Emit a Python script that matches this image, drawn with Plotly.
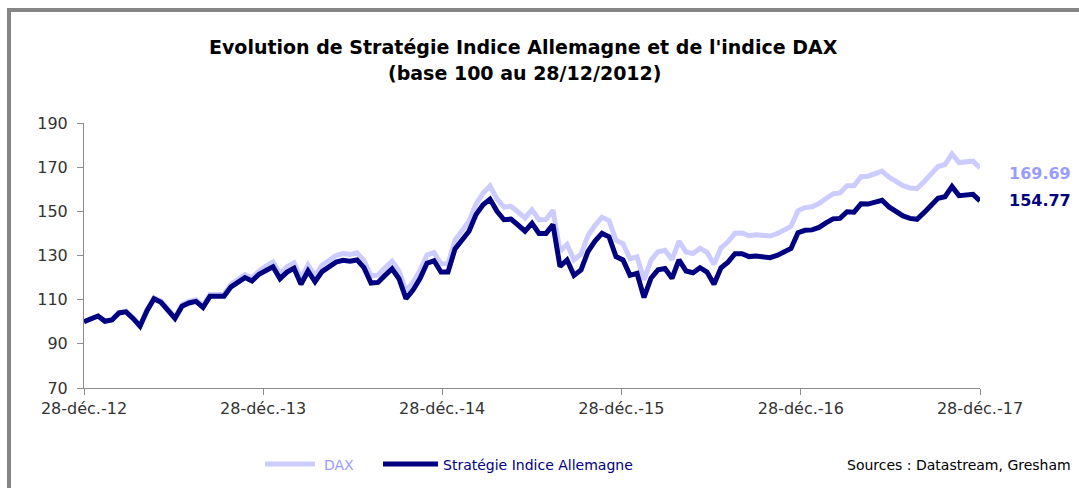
import pandas as pd
import plotly.graph_objects as go

start_date = "2012-12-28"
end_date = "2017-12-28"

strategie = [
    100.0, 101.5, 102.6, 100.2, 100.8, 104.0, 104.5, 101.5, 98.0, 105.0,
    110.4, 108.8, 105.5, 101.5, 107.0, 108.5, 109.2, 106.5, 111.5, 111.3,
    111.5, 115.8, 117.6, 120.0, 118.5, 121.5, 123.2, 124.9, 119.5, 122.5,
    124.2, 117.0, 123.0, 118.1, 122.7, 124.7, 127.0, 127.8, 127.4, 128.0,
    124.5, 117.5, 117.8, 121.0, 124.0, 119.5, 110.5, 114.3, 119.6, 126.5,
    127.6, 122.5, 122.5, 133.0, 136.8, 141.0, 148.5, 153.0, 155.5, 150.0,
    146.2, 146.5, 143.8, 141.0, 144.6, 140.0, 140.0, 144.0, 125.0, 128.0,
    121.0, 123.5, 131.8, 136.5, 140.0, 138.5, 129.5, 128.0, 121.0, 121.9,
    111.0, 119.7, 123.5, 124.1, 119.7, 128.0, 123.0, 122.2, 124.5, 122.5,
    117.0, 124.4, 127.0, 130.8, 130.8, 129.5, 129.8, 129.6, 129.0, 130.0,
    131.6, 133.2, 140.3, 141.4, 141.6, 142.7, 144.8, 146.6, 146.8, 149.8,
    149.6, 153.4, 153.3, 154.0, 155.0, 152.0, 150.2, 147.9, 146.8, 146.4,
    149.4, 152.6, 155.9, 156.6, 161.2, 157.1, 157.6, 157.7, 154.77,
]

dax = [
    100.0, 101.6, 102.7, 100.3, 101.0, 104.2, 104.8, 101.8, 98.4, 105.4,
    110.9, 109.3, 106.1, 102.1, 107.7, 109.2, 110.0, 107.3, 112.4, 112.2,
    112.5, 116.9, 118.8, 121.3, 119.9, 123.0, 125.2, 127.1, 121.8, 124.9,
    126.7, 119.6, 125.7, 120.9, 125.6, 127.7, 130.0, 130.9, 130.5, 131.2,
    127.7, 120.8, 121.1, 124.4, 127.4, 123.0, 114.0, 117.9, 123.2, 130.2,
    131.3, 126.3, 126.3, 137.0, 141.0, 145.5, 153.3, 158.2, 161.5, 155.6,
    151.9, 152.3, 149.7, 147.0, 150.7, 146.2, 146.3, 150.5, 132.0, 135.0,
    128.1, 130.6, 139.0, 143.7, 147.3, 145.8, 136.9, 135.4, 128.5, 129.4,
    119.0, 127.8, 131.7, 132.4, 128.1, 136.5, 131.6, 130.9, 133.3, 131.4,
    126.0, 133.5, 136.2, 140.1, 140.2, 139.0, 139.4, 139.3, 138.8, 139.9,
    141.6, 143.2, 150.3, 151.7, 152.1, 153.5, 155.8, 157.9, 158.3, 161.6,
    161.6, 165.7, 165.9, 166.9, 168.2, 165.5, 163.8, 161.6, 160.6, 160.3,
    163.4, 166.8, 170.3, 171.2, 176.0, 172.1, 172.6, 172.7, 169.69,
]

tick_dates = ["2012-12-28", "2013-12-28", "2014-12-28", "2015-12-28", "2016-12-28", "2017-12-28"]
tick_labels = ["28-déc.-12", "28-déc.-13", "28-déc.-14", "28-déc.-15", "28-déc.-16", "28-déc.-17"]
series_names = ["DAX", "Stratégie Indice Allemagne"]

dates = pd.date_range(start_date, end_date, periods=len(strategie))

DAX_COLOR = "#ccccff"
DAX_TEXT = "#9c9cff"
STRAT_COLOR = "#000080"
FONT = "DejaVu Sans"

# plot area in pixels
L, R, T, B = 84, 980, 123, 388
W = R - L
H = B - T


def px(x):
    return (x - L) / W


def py(y):
    return (B - y) / H


fig = go.Figure()
fig.add_trace(go.Scatter(x=dates, y=dax, mode="lines", name=series_names[0],
                         line=dict(color=DAX_COLOR, width=5), showlegend=False))
fig.add_trace(go.Scatter(x=dates, y=strategie, mode="lines", name=series_names[1],
                         line=dict(color=STRAT_COLOR, width=5), showlegend=False))

fig.update_layout(
    width=1079, height=488, autosize=False,
    margin=dict(l=L, r=1079 - R, t=T, b=488 - B, autoexpand=False),
    paper_bgcolor="white", plot_bgcolor="white",
    font=dict(family=FONT, size=16, color="#333333"),
    showlegend=False,
    xaxis=dict(type="date", range=[start_date, end_date], tickvals=tick_dates, ticktext=tick_labels,
               showgrid=False, zeroline=False, showline=True, linecolor="#8c8c8c", linewidth=1,
               ticks="outside", ticklen=6, tickcolor="#8c8c8c", tickfont=dict(size=16, color="#333333")),
    yaxis=dict(range=[70, 190], tickvals=[70, 90, 110, 130, 150, 170, 190],
               showgrid=False, zeroline=False, showline=True, linecolor="#8c8c8c", linewidth=1,
               ticks="outside", ticklen=6, tickcolor="#8c8c8c", ticklabelstandoff=6,
               tickfont=dict(size=16, color="#333333")),
)

fig.add_annotation(xref="paper", yref="paper", x=px(523), y=py(47),
                   text="<b>Evolution de Stratégie Indice Allemagne et de l'indice DAX</b>",
                   showarrow=False, xanchor="center", yanchor="middle",
                   font=dict(size=19, color="black", family=FONT))
fig.add_annotation(xref="paper", yref="paper", x=px(524), y=py(73),
                   text="<b>(base 100 au 28/12/2012)</b>",
                   showarrow=False, xanchor="center", yanchor="middle",
                   font=dict(size=19, color="black", family=FONT))
fig.add_annotation(xref="paper", yref="y", x=px(1007), y=dax[-1], yshift=-6,
                   text="<b>%.2f</b>" % dax[-1], showarrow=False, xanchor="left", yanchor="middle",
                   font=dict(size=16, color=DAX_TEXT, family=FONT))
fig.add_annotation(xref="paper", yref="y", x=px(1007), y=strategie[-1], yshift=0,
                   text="<b>%.2f</b>" % strategie[-1], showarrow=False, xanchor="left", yanchor="middle",
                   font=dict(size=16, color=STRAT_COLOR, family=FONT))
fig.add_annotation(xref="paper", yref="paper", x=px(1073), y=py(465),
                   text="Sources : Datastream, Gresham", showarrow=False, xanchor="right", yanchor="middle",
                   font=dict(size=14, color="black", family=FONT))

# legend (drawn manually)
legend_items = [
    (series_names[0], DAX_COLOR, DAX_TEXT, 265, 315, 322),
    (series_names[1], STRAT_COLOR, STRAT_COLOR, 383, 438, 441),
]
for name, lc, tc, x0, x1, xt in legend_items:
    fig.add_shape(type="line", xref="paper", yref="paper", x0=px(x0), x1=px(x1), y0=py(464), y1=py(464),
                  line=dict(color=lc, width=5))
    fig.add_annotation(xref="paper", yref="paper", x=px(xt), y=py(465), text=name, showarrow=False,
                       xanchor="left", yanchor="middle", font=dict(size=14, color=tc, family=FONT))

# frame
fig.add_shape(type="rect", xref="paper", yref="paper",
              x0=px(9), x1=px(1100), y0=py(520), y1=py(10),
              line=dict(color="#858585", width=4), fillcolor="rgba(0,0,0,0)", layer="below")

fig.write_html("out.html", config={"displayModeBar": False},
               post_script="document.body.style.margin='0';document.body.style.overflow='hidden';")
